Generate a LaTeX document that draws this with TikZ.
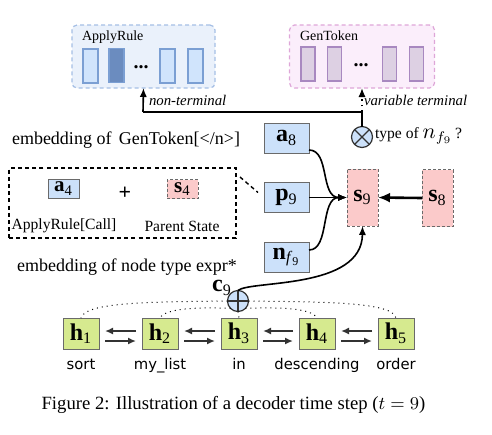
\documentclass[tikz,border=0pt]{standalone}
\usepackage{fontspec}
\setmainfont{Liberation Serif}
\newfontfamily\tokfont{DejaVu Sans}
\usetikzlibrary{arrows.meta,calc}
\definecolor{bluefill}{HTML}{CCE1FA}
\definecolor{boxgray}{HTML}{6A6A6A}
\definecolor{arfill}{HTML}{EAF1FB}
\definecolor{arline}{HTML}{A5BFE5}
\definecolor{arin}{HTML}{D0E4FC}
\definecolor{arinline}{HTML}{7B9FD3}
\definecolor{ardark}{HTML}{6B8CBF}
\definecolor{gtfill}{HTML}{FBEEFB}
\definecolor{gtline}{HTML}{DEA6D8}
\definecolor{gtin}{HTML}{DDD0E3}
\definecolor{gtinline}{HTML}{A888C0}
\definecolor{pinkfill}{HTML}{FBCACA}
\definecolor{greenfill}{HTML}{D6EA8F}
\definecolor{arrgray}{HTML}{333333}
\begin{document}
\begin{tikzpicture}[x=0.5pt,y=-0.5pt,
  every node/.style={inner sep=0pt, outer sep=0pt},
  tip/.style={-{Latex[length=4.5pt,width=3.6pt]}},
  bluebox/.style={draw=boxgray, fill=bluefill, line width=0.5pt, minimum width=22.5pt, minimum height=15pt},
  pinkbox/.style={draw=boxgray, fill=pinkfill, dashed, dash pattern=on 1.5pt off 1pt, line width=0.5pt, minimum width=15.5pt, minimum height=28.5pt},
  greenbox/.style={draw=boxgray, fill=greenfill, line width=0.5pt, minimum width=18pt, minimum height=15.5pt},
  arouter/.style={draw=arline, fill=arfill, dashed, dash pattern=on 2pt off 1.5pt, line width=0.6pt, rounded corners=2.5pt},
  gtouter/.style={draw=gtline, fill=gtfill, dashed, dash pattern=on 2pt off 1.5pt, line width=0.6pt, rounded corners=2.5pt},
  arcell/.style={draw=arinline, fill=arin, line width=0.6pt, minimum width=7.5pt, minimum height=17pt},
  gtcell/.style={draw=gtinline, fill=gtin, line width=0.6pt, minimum width=7pt, minimum height=17pt},
  opcirc/.style={circle, draw=arrgray, fill=bluefill, line width=0.6pt},
  bigbold/.style={font=\fontsize{12}{13}\selectfont},
  small/.style={font=\fontsize{7}{8}\selectfont},
  ital/.style={font=\fontsize{7.4}{8}\selectfont\itshape},
  mid/.style={font=\fontsize{7.8}{9}\selectfont},
  large/.style={font=\fontsize{9}{10}\selectfont},
  tok/.style={font=\tokfont\fontsize{7.4}{8}\selectfont},
  hid/.style={draw=arrgray, line width=0.9pt, -{Latex[length=4pt,width=3.5pt]}},
  dots/.style={dotted, line width=0.5pt}
]
\useasboundingbox (0,0) rectangle (492,434);

% ApplyRule box
\node[arouter, minimum width=71.5pt, minimum height=31.5pt] (AR) at (143.5,56.5) {};
\node[small, anchor=west] (ARl) at (82,37) {ApplyRule};
\node[arcell] (ar1) at (90.5,66) {};
\node[arcell, fill=ardark] (ar2) at (116.5,65.5) {};
\node[font=\fontsize{10}{10}\selectfont\bfseries] (ard) at (141,67) {...};
\node[arcell] (ar3) at (167.5,66) {};
\node[arcell] (ar4) at (195.5,66) {};

% GenToken box
\node[gtouter, minimum width=72.5pt, minimum height=31.5pt] (GT) at (362,56.5) {};
\node[small, anchor=west] (GTl) at (300,36) {GenToken};
\node[gtcell] (gt1) at (308,64) {};
\node[gtcell] (gt2) at (334.5,64) {};
\node[font=\fontsize{10}{10}\selectfont\bfseries] (gtd) at (361,65) {...};
\node[gtcell] (gt3) at (389.5,64) {};
\node[gtcell] (gt4) at (416.5,64) {};

% otimes
\node[opcirc, minimum size=10.5pt] (ot) at (362,137) {};
\draw[arrgray, line width=0.6pt] (ot.north west) -- (ot.south east) (ot.north east) -- (ot.south west);
\node[mid, anchor=west] (otl) at (375,136) {type of {\fontsize{10.5}{10}\selectfont$n_{f_9}$}\,?};

\coordinate (J) at (362,112);
\coordinate (K) at (143,112);
\draw[line width=0.8pt] (ot.north) -- (J) -- (K);
\draw[line width=0.8pt, tip] (K) -- (AR.south);
\draw[dotted, line width=0.8pt, tip] (J) -- (GT.south);
\node[ital, anchor=west] (ntl) at (149,100) {non-terminal};
\node[ital, anchor=west] (vtl) at (364,100) {variable terminal};

% states
\node[pinkbox, bigbold] (s9) at (362.5,197.5) {\textbf{s}\textsubscript{9}};
\node[pinkbox, bigbold] (s8) at (437.5,198) {\textbf{s}\textsubscript{8}};
\draw[line width=1.3pt, -{Latex[length=6pt,width=5pt]}] (s8.west) -- (s9.east);

\node[bluebox, bigbold] (a8) at (286.5,138) {\textbf{a}\textsubscript{8}};
\node[bluebox, bigbold] (p9) at (286.5,197.5) {\textbf{p}\textsubscript{9}};
\node[bluebox, bigbold] (nf) at (286.5,257) {\textbf{n}\textsubscript{\textit{f}\textsubscript{9}}};

\draw[line width=0.8pt, tip] ([yshift=-6pt]a8.east) .. controls (330,150) and (320,197.5) .. (s9.west);
\draw[line width=0.8pt, tip] ([yshift=3.5pt]nf.east) .. controls (330,250) and (320,197.5) .. (s9.west);
\draw[line width=0.8pt, tip] (p9.east) -- (s9.west);

% context box
\node[large] (gtemb) at (126,140) {embedding of\, GenToken[</n>]};
\node[draw, dashed, dash pattern=on 2pt off 1.6pt, line width=0.7pt, minimum width=113.5pt, minimum height=35pt] (ctx) at (122.5,203) {};
\node[bluebox, font=\fontsize{10.5}{11}\selectfont, minimum width=15.5pt, minimum height=9.5pt] (a4) at (63.5,188.5) {\textbf{a}\textsubscript{4}};
\node[font=\fontsize{11}{12}\selectfont\bfseries] (plus) at (125,193) {+};
\node[pinkbox, font=\fontsize{10.5}{11}\selectfont, minimum width=15.5pt, minimum height=9.5pt] (s4) at (182.5,189) {\textbf{s}\textsubscript{4}};
\node[mid] (a4l) at (64,226) {ApplyRule[Call]};
\node[mid] (s4l) at (182,226) {Parent State};
\draw[dashed, dash pattern=on 2pt off 1.6pt, line width=0.7pt] ($(ctx.north east)+(4,9)$) -- ($(p9.north west)+(-6,10)$);
\node[large] (ntemb) at (127,267) {embedding of node type expr*};

% encoder
\node[opcirc, minimum size=10.5pt] (c9) at (238,301) {};
\draw[arrgray, line width=0.6pt] (c9.north) -- (c9.south) (c9.west) -- (c9.east);
\node[bigbold] (c9l) at (222,288) {\textbf{c}\textsubscript{9}};
\draw[line width=0.8pt, tip] (c9.north) .. controls (250,280) and (362,290) .. (s9.south);

\foreach \i/\x/\w in {1/81/sort, 2/160/my\_list, 3/239/in, 4/317/descending, 5/396/order} {
  \node[greenbox, bigbold] (h\i) at (\x,333.5) {\textbf{h}\textsubscript{\i}};
  \node[tok, anchor=base] (w\i) at (\x,369) {\w};
}
\foreach \a/\b in {1/2, 2/3, 3/4, 4/5} {
  \draw[hid] ($(h\b.west)+(-6,-2.5)$) -- ($(h\a.east)+(6,-2.5)$);
  \draw[hid] ($(h\a.east)+(6,7.5)$) -- ($(h\b.west)+(-6,7.5)$);
}
\draw[dots] (c9.west) .. controls (150,302) and (85,302) .. (h1.north);
\draw[dots] (c9.south west) .. controls (200,307) and (165,308) .. (h2.north);
\draw[dots] (c9.south) -- (h3.north);
\draw[dots] (c9.south east) .. controls (278,307) and (312,308) .. (h4.north);
\draw[dots] (c9.east) .. controls (325,302) and (393,302) .. (h5.north);

% caption
\node[font=\fontsize{9.35}{11}\selectfont] (cap) at (233.5,405) {Figure 2: Illustration of a decoder time step ($t=9$)};
\end{tikzpicture}
\end{document}
